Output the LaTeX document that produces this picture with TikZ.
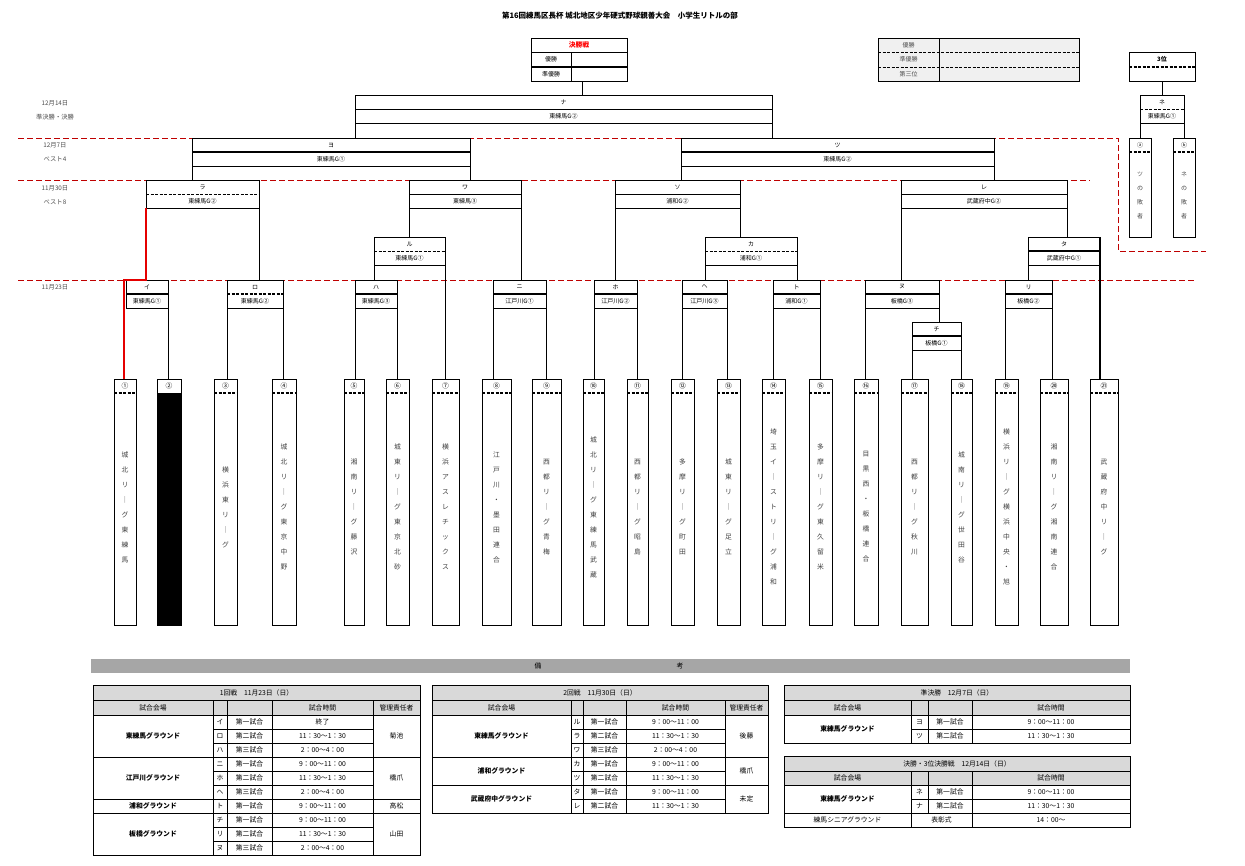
\documentclass[tikz,border=0pt]{standalone}
\usepackage{fontspec}
\setmainfont{Noto Sans CJK JP}
\begin{document}
\begin{tikzpicture}[x=1pt,y=-1pt,
  lbl/.style={font=\fontsize{6}{6.5}\selectfont,inner sep=0},
  ts/.style={font=\fontsize{6.8}{7}\selectfont,inner sep=0},
  tb/.style={font=\bfseries\fontsize{6.8}{7}\selectfont,inner sep=0},
  dl/.style={font=\fontsize{6.3}{7}\selectfont,inner sep=0,text=black!70},
  red/.style={draw=red!75!black,dash pattern=on 6pt off 3pt,line width=0.6pt},
  thk/.style={line width=1.6pt},
  thkd/.style={line width=1.6pt,dash pattern=on 3pt off 1.5pt},
  thd/.style={line width=0.5pt,dash pattern=on 3pt off 1.5pt},
  thn/.style={line width=0.5pt},
  ln/.style={line width=0.6pt},
  tln/.style={line width=0.5pt}]
\useasboundingbox (0,0) rectangle (1245,865);
\newcommand\matchbox[6]{%
  \draw[ln] (#1,#3) rectangle (#2,#3+28);
  \draw[#4] (#1,#3+14) -- (#2,#3+14);
  \node[lbl] at ({(#1+#2)/2},#3+7) {#5};
  \node[lbl] at ({(#1+#2)/2},#3+21) {#6};}
\newcommand\teambox[4]{%
  \draw[ln] (#1,379) rectangle (#2,625);
  \draw[thkd] (#1,393) -- (#2,393);
  \node[ts] at ({(#1+#2)/2},386) {#3};
  \node[font=\fontsize{6.8}{15}\selectfont,inner sep=0,align=center,text=black!75] at ({(#1+#2)/2},507) {#4};}
% title
\node[font=\bfseries\fontsize{7.5}{8}\selectfont,inner sep=0] (title) at (620,16) {第16回練馬区長杯 城北地区少年硬式野球親善大会　小学生リトルの部};
% date labels
\node[dl] (d1) at (55,103) {12月14日};
\node[dl] (d1b) at (55,117) {準決勝・決勝};
\node[dl] (d2) at (55,145) {12月7日};
\node[dl] (d2b) at (55,159) {ベスト4};
\node[dl] (d3) at (55,188) {11月30日};
\node[dl] (d3b) at (55,202) {ベスト8};
\node[dl] (d4) at (55,287) {11月23日};
% red dashed
\draw[red] (18,138) -- (1118,138) -- (1118,251) -- (1206,251);
\draw[red] (18,180) -- (1090,180);
\draw[red] (18,280) -- (1195,280);
% final box
\draw[ln] (531,38) rectangle (627,81);
\draw[ln] (531,52) -- (627,52);
\draw[thk] (531,67) -- (627,67);
\draw[ln] (571.5,52) -- (571.5,81);
\node[font=\bfseries\fontsize{6.8}{7}\selectfont,text=red,inner sep=0] (kessho) at (579,45) {決勝戦};
\node[lbl] at (551,59) {優勝};
\node[lbl] at (551,74) {準優勝};
\draw[ln] (582,81) -- (582,95);
% results box
\fill[black!6] (878,38) rectangle (1079,81);
\draw[ln] (878,38) rectangle (1079,81);
\draw[ln] (939,38) -- (939,81);
\draw[thd] (878,52) -- (1079,52);
\draw[thkd,line width=1pt] (878,67) -- (1079,67);
\node[lbl,text=black!70] at (908.5,45) {優勝};
\node[lbl,text=black!70] at (908.5,59.5) {準優勝};
\node[lbl,text=black!70] at (908.5,74) {第三位};
% third place
\draw[ln] (1129,52) rectangle (1195,81);
\draw[thkd] (1129,67) -- (1195,67);
\node[font=\bfseries\fontsize{6}{6.5}\selectfont,inner sep=0] at (1162,59) {3位};
\draw[ln] (1162,81) -- (1162,95);
\matchbox{1140}{1184}{95}{thd}{ネ}{東練馬G①}
\draw[ln] (1140,123) -- (1140,138);
\draw[ln] (1184,123) -- (1184,138);
\draw[ln] (1129,138) rectangle (1151,237);
\draw[thkd] (1129,152) -- (1151,152);
\node[lbl] at (1140,145) {ⓐ};
\node[font=\fontsize{6}{14}\selectfont,inner sep=0,align=center,text=black!70] at (1140,195) {ツ\\の\\敗\\者};
\draw[ln] (1173,138) rectangle (1195,237);
\draw[thkd] (1173,152) -- (1195,152);
\node[lbl] at (1184,145) {ⓑ};
\node[font=\fontsize{6}{14}\selectfont,inner sep=0,align=center,text=black!70] at (1184,195) {ネ\\の\\敗\\者};
% final
\matchbox{355}{772}{95}{thn}{ナ}{東練馬G②}
\draw[ln] (355,123) -- (355,138);
\draw[ln] (772,123) -- (772,138);
% semis
\matchbox{192}{470}{138}{thk}{ヨ}{東練馬G①}
\draw[ln] (192,166) -- (192,180);
\draw[ln] (470,166) -- (470,180);
\matchbox{681}{994}{138}{thk}{ツ}{東練馬G②}
\draw[ln] (681,166) -- (681,180);
\draw[ln] (994,166) -- (994,180);
% round 2
\matchbox{146}{259}{180}{thd}{ラ}{東練馬G②}
\draw[ln] (259,208) -- (259,280);
\matchbox{409}{521}{180}{thn}{ワ}{東練馬③}
\draw[ln] (409,208) -- (409,237);
\draw[ln] (521,208) -- (521,280);
\matchbox{615}{740}{180}{thn}{ソ}{浦和G②}
\draw[ln] (615,208) -- (615,280);
\draw[ln] (740,208) -- (740,237);
\matchbox{901}{1067}{180}{thn}{レ}{武蔵府中G②}
\draw[ln] (901,208) -- (901,280);
\draw[ln] (1067,208) -- (1067,237);
\matchbox{374}{445}{237}{thd}{ル}{東練馬G①}
\draw[ln] (374,265) -- (374,280);
\draw[ln] (445,265) -- (445,379);
\matchbox{705}{797}{237}{thd}{カ}{浦和G①}
\draw[ln] (705,265) -- (705,280);
\draw[ln] (797,265) -- (797,280);
\matchbox{1028}{1100}{237}{thk}{タ}{武蔵府中G①}
\draw[ln] (1028,265) -- (1028,280);
\draw[line width=1.6pt] (1100,237) -- (1100,379);
% round 1
\matchbox{126}{168}{280}{thk}{イ}{東練馬G①}
\draw[ln] (168,308) -- (168,379);
\matchbox{227}{283}{280}{thkd}{ロ}{東練馬G②}
\draw[ln] (227,308) -- (227,379);
\draw[ln] (283,308) -- (283,379);
\matchbox{355}{397}{280}{thk}{ハ}{東練馬G③}
\draw[ln] (355,308) -- (355,379);
\draw[ln] (397,308) -- (397,379);
\matchbox{493}{546}{280}{thk}{ニ}{江戸川G①}
\draw[ln] (493,308) -- (493,379);
\draw[ln] (546,308) -- (546,379);
\matchbox{594}{637}{280}{thk}{ホ}{江戸川G②}
\draw[ln] (594,308) -- (594,379);
\draw[ln] (637,308) -- (637,379);
\matchbox{682}{727}{280}{thk}{ヘ}{江戸川G③}
\draw[ln] (682,308) -- (682,379);
\draw[ln] (727,308) -- (727,379);
\matchbox{773}{820}{280}{thk}{ト}{浦和G①}
\draw[ln] (773,308) -- (773,379);
\draw[ln] (820,308) -- (820,379);
\matchbox{865}{939}{280}{thk}{ヌ}{板橋G③}
\draw[ln] (865,308) -- (865,379);
\draw[ln] (939,308) -- (939,322);
\matchbox{912}{961}{322}{thk}{チ}{板橋G①}
\draw[ln] (912,350) -- (912,379);
\draw[ln] (961,350) -- (961,379);
\matchbox{1005}{1052}{280}{thk}{リ}{板橋G②}
\draw[ln] (1005,308) -- (1005,379);
\draw[ln] (1052,308) -- (1052,379);
% winner path
\draw[red!90!black,line width=2pt] (124,379) -- (124,280) -- (146,280) -- (146,208);
% teams
\teambox{114}{136}{①}{城\\北\\リ\\｜\\グ\\東\\練\\馬}
\draw[ln] (157,379) rectangle (181,625);
\fill[black] (157,393) rectangle (181,625);
\node[ts] at (169,386) {②};
\teambox{214}{237}{③}{横\\浜\\東\\リ\\｜\\グ}
\teambox{272}{296}{④}{城\\北\\リ\\｜\\グ\\東\\京\\中\\野}
\teambox{344}{364}{⑤}{湘\\南\\リ\\｜\\グ\\藤\\沢}
\teambox{386}{409}{⑥}{城\\東\\リ\\｜\\グ\\東\\京\\北\\砂}
\teambox{432}{459}{⑦}{横\\浜\\ア\\ス\\レ\\チ\\ッ\\ク\\ス}
\teambox{482}{511}{⑧}{江\\戸\\川\\・\\墨\\田\\連\\合}
\teambox{532}{561}{⑨}{西\\都\\リ\\｜\\グ\\青\\梅}
\teambox{583}{604}{⑩}{城\\北\\リ\\｜\\グ\\東\\練\\馬\\武\\蔵}
\teambox{627}{648}{⑪}{西\\都\\リ\\｜\\グ\\昭\\島}
\teambox{671}{694}{⑫}{多\\摩\\リ\\｜\\グ\\町\\田}
\teambox{717}{740}{⑬}{城\\東\\リ\\｜\\グ\\足\\立}
\teambox{762}{785}{⑭}{埼\\玉\\イ\\｜\\ス\\ト\\リ\\｜\\グ\\浦\\和}
\teambox{809}{832}{⑮}{多\\摩\\リ\\｜\\グ\\東\\久\\留\\米}
\teambox{854}{878}{⑯}{目\\黒\\西\\・\\板\\橋\\連\\合}
\teambox{901}{928}{⑰}{西\\都\\リ\\｜\\グ\\秋\\川}
\teambox{951}{972}{⑱}{城\\南\\リ\\｜\\グ\\世\\田\\谷}
\teambox{995}{1018}{⑲}{横\\浜\\リ\\｜\\グ\\横\\浜\\中\\央\\・\\旭}
\teambox{1040}{1068}{⑳}{湘\\南\\リ\\｜\\グ\\湘\\南\\連\\合}
\teambox{1090}{1118}{㉑}{武\\蔵\\府\\中\\リ\\｜\\グ}
% remarks bar
\fill[black!35] (91,659) rectangle (1130,673);
\node[ts] at (538,666) {備};
\node[ts] at (680,666) {考};
% ---- table 1
\fill[black!15] (93,685) rectangle (420,715);
\draw[ln] (93,685) rectangle (420,855);
\draw[tln] (93,700) -- (420,700);
\draw[tln] (93,715) -- (420,715);
\foreach \x in {213,227,272,373} \draw[tln] (\x,700) -- (\x,855);
\foreach \i in {1,2,4,5,8,9} \draw[tln] (213,715+14*\i) -- (373,715+14*\i);
\foreach \i in {3,6,7} \draw[tln] (93,715+14*\i) -- (420,715+14*\i);
\node[ts] at (256.5,692.5) {1回戦　11月23日（日）};
\node[ts] at (153,707.5) {試合会場};
\node[ts] at (322.5,707.5) {試合時間};
\node[ts] at (396.5,707.5) {管理責任者};
\foreach \l/\m/\t [count=\i from 0] in {イ/第一試合/終了,ロ/第二試合/11：30～1：30,ハ/第三試合/2：00～4：00,ニ/第一試合/9：00～11：00,ホ/第二試合/11：30～1：30,ヘ/第三試合/2：00～4：00,ト/第一試合/9：00～11：00,チ/第一試合/9：00～11：00,リ/第二試合/11：30～1：30,ヌ/第三試合/2：00～4：00}{
  \node[ts] at (220,722+14*\i) {\l};
  \node[ts] at (249.5,722+14*\i) {\m};
  \node[ts] at (322.5,722+14*\i) {\t};}
\node[tb] at (153,736) {東練馬グラウンド};
\node[tb] at (153,778) {江戸川グラウンド};
\node[tb] at (153,806) {浦和グラウンド};
\node[tb] at (153,834) {板橋グラウンド};
\node[ts] at (396.5,736) {菊池};
\node[ts] at (396.5,778) {橋爪};
\node[ts] at (396.5,806) {高松};
\node[ts] at (396.5,834) {山田};
% ---- table 2
\fill[black!15] (432,685) rectangle (768,715);
\draw[ln] (432,685) rectangle (768,813);
\draw[tln] (432,700) -- (768,700);
\draw[tln] (432,715) -- (768,715);
\foreach \x in {571,583,626,725} \draw[tln] (\x,700) -- (\x,813);
\foreach \i in {1,2,4,6} \draw[tln] (571,715+14*\i) -- (725,715+14*\i);
\foreach \i in {3,5} \draw[tln] (432,715+14*\i) -- (768,715+14*\i);
\node[ts] at (600,692.5) {2回戦　11月30日（日）};
\node[ts] at (501.5,707.5) {試合会場};
\node[ts] at (675.5,707.5) {試合時間};
\node[ts] at (746.5,707.5) {管理責任者};
\foreach \l/\m/\t [count=\i from 0] in {ル/第一試合/9：00～11：00,ラ/第二試合/11：30～1：30,ワ/第三試合/2：00～4：00,カ/第一試合/9：00～11：00,ツ/第二試合/11：30～1：30,タ/第一試合/9：00～11：00,レ/第二試合/11：30～1：30}{
  \node[ts] at (577,722+14*\i) {\l};
  \node[ts] at (604.5,722+14*\i) {\m};
  \node[ts] at (675.5,722+14*\i) {\t};}
\node[tb] at (501.5,736) {東練馬グラウンド};
\node[tb] at (501.5,771) {浦和グラウンド};
\node[tb] at (501.5,799) {武蔵府中グラウンド};
\node[ts] at (746.5,736) {後藤};
\node[ts] at (746.5,771) {橋爪};
\node[ts] at (746.5,799) {未定};
% ---- table 3
\fill[black!15] (784,685) rectangle (1130,715);
\draw[ln] (784,685) rectangle (1130,743);
\draw[tln] (784,700) -- (1130,700);
\draw[tln] (784,715) -- (1130,715);
\foreach \x in {911,928,972} \draw[tln] (\x,700) -- (\x,743);
\draw[tln] (911,729) -- (1130,729);
\node[ts] at (957,692.5) {準決勝　12月7日（日）};
\node[ts] at (847.5,707.5) {試合会場};
\node[ts] at (1051,707.5) {試合時間};
\node[ts] at (919.5,722) {ヨ};
\node[ts] at (950,722) {第一試合};
\node[ts] at (1051,722) {9：00～11：00};
\node[ts] at (919.5,736) {ツ};
\node[ts] at (950,736) {第二試合};
\node[ts] at (1051,736) {11：30～1：30};
\node[tb] at (847.5,729) {東練馬グラウンド};
% ---- table 4
\fill[black!15] (784,756) rectangle (1130,785);
\draw[ln] (784,756) rectangle (1130,827);
\draw[tln] (784,771) -- (1130,771);
\draw[tln] (784,785) -- (1130,785);
\draw[tln] (911,771) -- (911,827);
\draw[tln] (972,771) -- (972,827);
\draw[tln] (928,771) -- (928,813);
\draw[tln] (911,799) -- (1130,799);
\draw[tln] (784,813) -- (1130,813);
\node[ts] at (957,763.5) {決勝・3位決勝戦　12月14日（日）};
\node[ts] at (847.5,778) {試合会場};
\node[ts] at (1051,778) {試合時間};
\node[ts] at (919.5,792) {ネ};
\node[ts] at (950,792) {第一試合};
\node[ts] at (1051,792) {9：00～11：00};
\node[ts] at (919.5,806) {ナ};
\node[ts] at (950,806) {第二試合};
\node[ts] at (1051,806) {11：30～1：30};
\node[tb] at (847.5,799) {東練馬グラウンド};
\node[ts] at (847.5,820) {練馬シニアグラウンド};
\node[ts] at (941.5,820) {表彰式};
\node[ts] at (1051,820) {14：00～};
\end{tikzpicture}
\end{document}
